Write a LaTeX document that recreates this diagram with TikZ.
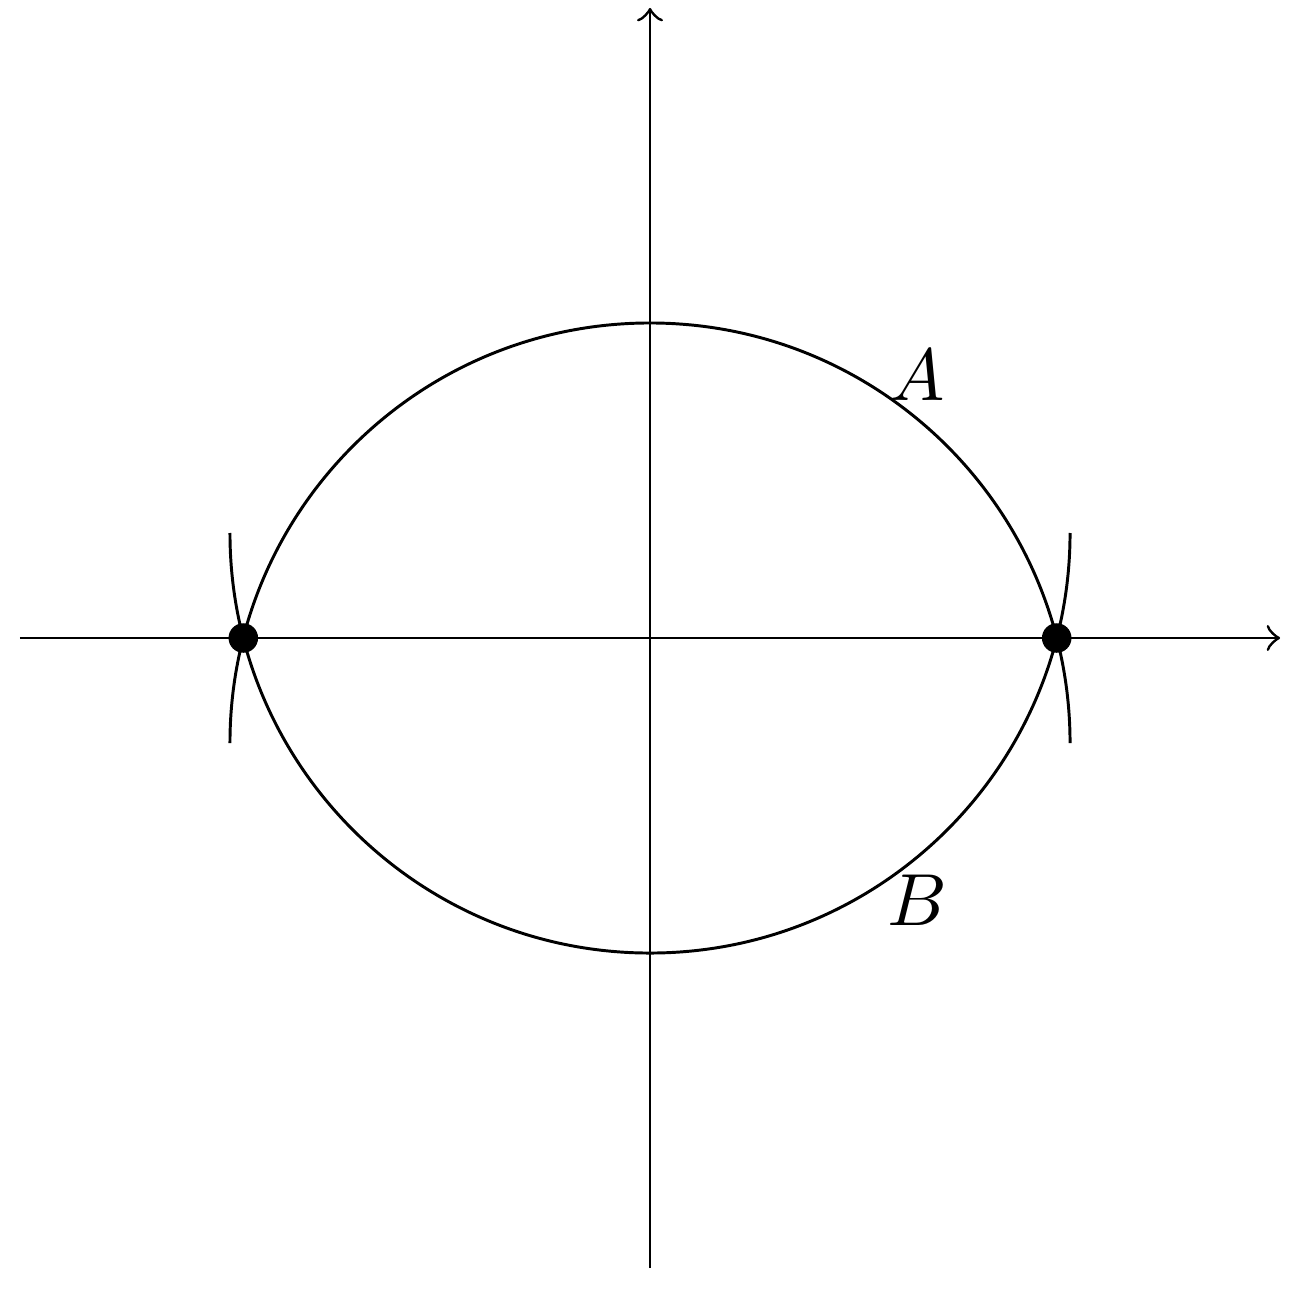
\documentclass[tikz,border=0pt]{standalone}
\begin{document}
\begin{tikzpicture}[
  axis/.style={->},
  curve/.style={line width=0.4pt},
  dot/.style={circle,fill=black,inner sep=0pt,minimum size=4pt}
]
\useasboundingbox (-3.095,-3.152) rectangle (3.095,3.038);
\coordinate (xl) at (-3,0);
\coordinate (xr) at (3,0);
\coordinate (yb) at (0,-3);
\coordinate (yt) at (0,3);
\draw[axis] (xl) -- (xr);
\draw[axis] (yb) -- (yt);
\draw[curve] (-2,-0.5) arc (180:0:2);
\draw[curve] (-2,0.5) arc (180:360:2);
\node[dot] (p) at (-1.9365,0) {};
\node[dot] (q) at (1.9365,0) {};
\node (A) at (1.27,1.25) {$A$};
\node (B) at (1.275,-1.25) {$B$};
\end{tikzpicture}
\end{document}
